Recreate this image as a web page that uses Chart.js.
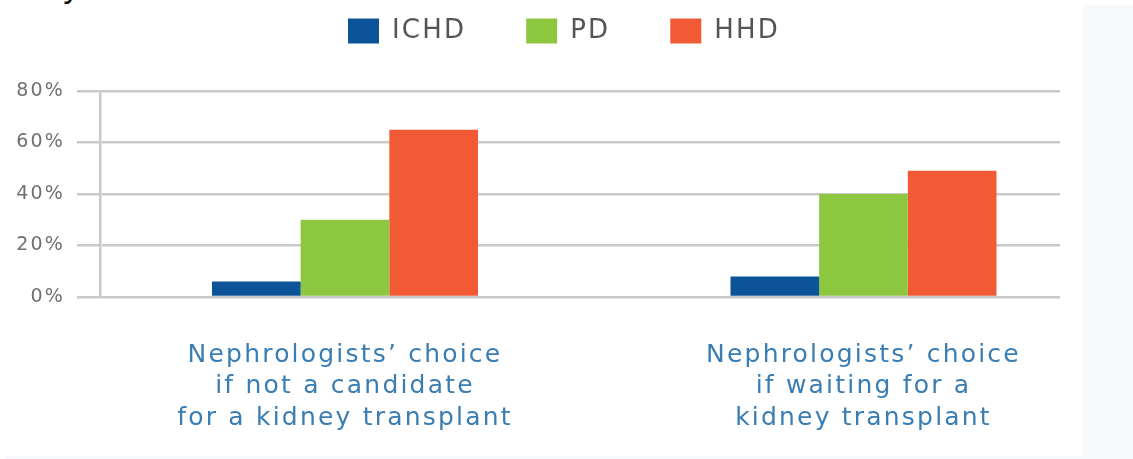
<!DOCTYPE html>
<html>
<head>
<meta charset="utf-8">
<script src="https://cdn.jsdelivr.net/npm/chart.js@4/dist/chart.umd.min.js"></script>
<style>
    html, body { margin: 0; padding: 0; background: #ffffff; overflow: hidden; }
    #wrap { position: relative; width: 1133px; height: 459px; }
    #side { position: absolute; left: 1083px; top: 5px; width: 50px; height: 454px; background: #f7f8fc; }
    #bottom { position: absolute; left: 5px; top: 456px; width: 1128px; height: 3px; background: #f7f8fc; }
    #cut { position: absolute; left: 62px; top: -33px; font: 32px "DejaVu Sans", sans-serif; color: #111; }
    canvas { position: absolute; left: 0; top: 0; }
</style>
</head>
<body>
<div id="wrap">
    <div id="side"></div>
    <div id="bottom"></div>
    <div id="cut">y</div>
    <canvas id="choiceChart" width="1133" height="459"></canvas>
</div>

<script>
// ===============================
// Data
// ===============================
const categories = [
    ["Nephrologists\u2019 choice", "if not a candidate", "for a kidney transplant"],
    ["Nephrologists\u2019 choice", "if waiting for a", "kidney transplant"]
];
const seriesNames = ["ICHD", "PD", "HHD"];
const ichdValues = [6, 8];
const pdValues = [30, 40];
const hhdValues = [65, 49];
const yTicks = [0, 20, 40, 60, 80];

const colors = ["#0c5398", "#8dc63f", "#f15a34"];
const gridGrey = "#c9c9c9";

// ===============================
// Chart helpers
// ===============================
const toPoints = values => values.map((v, i) => ({ x: i, y: v }));

// wide lettering like the original typeface
const spacing = {
    id: "spacing",
    beforeLayout(chart) { chart.ctx.letterSpacing = "2.2px"; },
    beforeDraw(chart) { chart.ctx.letterSpacing = "2.2px"; }
};

// fixed legend height + horizontal span so it sits where the picture has it
const legendBox = {
    id: "legendBox",
    beforeInit(chart) {
        const legend = chart.legend;
        if (!legend) return;
        const fit = legend.fit;
        legend.fit = function () {
            fit.call(this);
            this.height = 133;
        };
    },
    afterLayout(chart) {
        const legend = chart.legend;
        legend.left = 68;
        legend.right = 1060;
        legend.width = 992;
    }
};

// ===============================
// Chart
// ===============================
new Chart(document.getElementById("choiceChart"), {

    type: "bar",

    data: {
        datasets: [ichdValues, pdValues, hhdValues].map((vals, i) => ({
            label: seriesNames[i],
            data: toPoints(vals),
            backgroundColor: colors[i],
            borderWidth: 0,
            categoryPercentage: 0.513,
            barPercentage: 1
        }))
    },

    options: {
        responsive: false,
        animation: false,
        layout: {
            padding: { left: 0, right: 73, top: -42, bottom: 0 }
        },
        plugins: {
            tooltip: { enabled: false },
            legend: {
                position: "top",
                labels: {
                    boxWidth: 31,
                    boxHeight: 25,
                    padding: 60,
                    color: "#555555",
                    font: { family: "DejaVu Sans", size: 26 }
                }
            }
        },
        scales: {
            x: {
                type: "linear",
                offset: false,
                min: -0.4725,
                max: 1.379,
                afterBuildTicks(scale) {
                    scale.ticks = categories.map((c, i) => ({ value: i }));
                },
                afterFit(scale) {
                    scale.height = 162;
                },
                grid: { display: false, drawTicks: false },
                border: { display: false },
                ticks: {
                    autoSkip: false,
                    maxRotation: 0,
                    padding: 43,
                    color: "#3a7db3",
                    font: { family: "DejaVu Sans", size: 25, lineHeight: 1.25 },
                    callback: value => categories[value]
                }
            },
            y: {
                min: 0,
                max: 80,
                afterBuildTicks(scale) {
                    scale.ticks = yTicks.map(v => ({ value: v }));
                },
                afterFit(scale) {
                    scale.width = 100;
                },
                grid: {
                    color: gridGrey,
                    lineWidth: 2.5,
                    tickLength: 23,
                    tickColor: gridGrey
                },
                border: { color: gridGrey, width: 2.5 },
                ticks: {
                    padding: 12,
                    color: "#707070",
                    font: { family: "DejaVu Sans", size: 19 },
                    callback: value => value + "%"
                }
            }
        }
    },

    plugins: [spacing, legendBox]

});
</script>
</body>
</html>
